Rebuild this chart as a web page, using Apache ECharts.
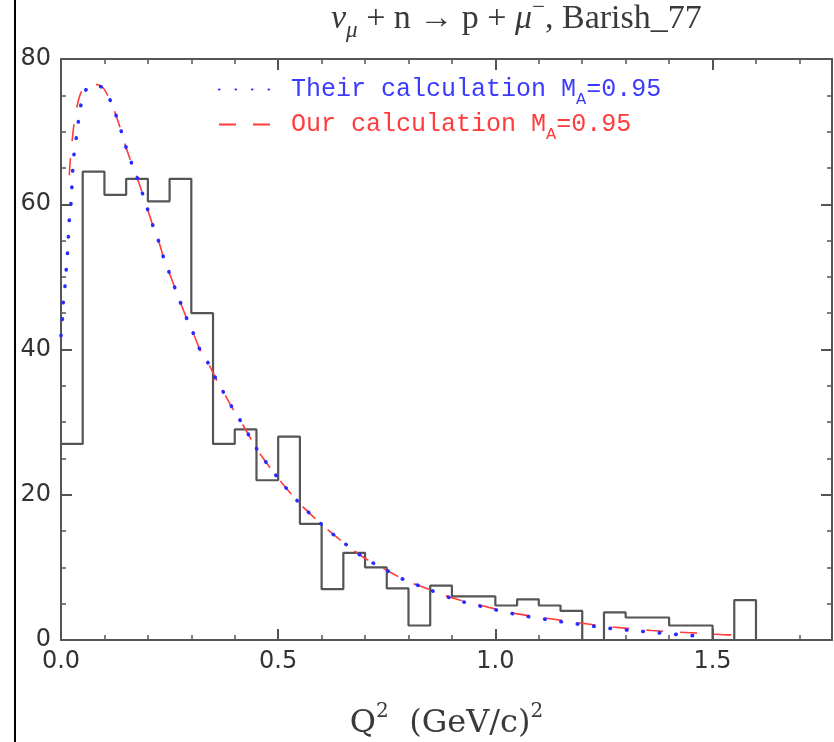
<!DOCTYPE html>
<html>
<head>
<meta charset="utf-8">
<script src="https://cdn.jsdelivr.net/npm/echarts@6/dist/echarts.min.js"></script>
<style>
html,body{margin:0;padding:0;background:#fff;}
#chart{width:834px;height:742px;}
</style>
</head>
<body>
<div id="chart"></div>
<script>
// ---- data ----
const binWidth = 0.05;
const histCounts = [27, 64.5, 61.3, 63.5, 60.4, 63.5, 45, 27, 29, 22, 28, 16, 7, 12, 10, 7.1,
  2, 7.5, 6, 6, 4.75, 5.6, 4.75, 4, 0, 3.8, 3.1, 3.1, 2, 2, 0, 5.5];

const theirQ2 = [0, 0.003, 0.005, 0.009, 0.012, 0.015, 0.017, 0.019, 0.023, 0.025, 0.027, 0.030,
  0.035, 0.040, 0.046, 0.055, 0.063, 0.080, 0.096, 0.115, 0.128, 0.140, 0.151, 0.164, 0.178,
  0.201, 0.213, 0.226, 0.237, 0.251, 0.264, 0.278, 0.292, 0.307, 0.322, 0.341, 0.359, 0.378,
  0.397, 0.416, 0.439, 0.455, 0.501, 0.551, 0.606, 0.634, 0.696, 0.762, 0.800, 0.833, 0.906,
  0.977, 1.050, 1.127, 1.165, 1.203, 1.237, 1.280, 1.317, 1.355, 1.394, 1.430, 1.468];
const theirVal = [41.9, 44, 46.4, 48.6, 51, 53.3, 55.5, 57.8, 60.2, 62.3, 64.7, 66.9,
  69.1, 71.4, 73.7, 75.5, 76.1, 76.4, 76.0, 74.1, 72, 69.8, 67.6, 65.4, 63.2,
  59, 56.8, 54.7, 52.5, 50.3, 48.2, 46, 43.9, 41.9, 39.7, 37.9, 35.7, 33.7,
  31.7, 29.9, 27.5, 25.9, 22.2, 18.7, 15.6, 14.2, 11.4, 9.2, 8.0, 7.3, 5.6,
  4.5, 3.5, 2.75, 2.4, 2.1, 1.8, 1.5, 1.3, 1.1, 0.9, 0.7, 0.55];

const ourQ2 = [0.019, 0.022, 0.026, 0.031, 0.038, 0.047, 0.060, 0.080, 0.096, 0.115, 0.128,
  0.140, 0.151, 0.164, 0.178, 0.201, 0.213, 0.226, 0.237, 0.251, 0.264, 0.278, 0.292, 0.307,
  0.322, 0.341, 0.359, 0.378, 0.397, 0.416, 0.439, 0.455, 0.501, 0.551, 0.606, 0.634, 0.696,
  0.762, 0.800, 0.833, 0.906, 0.977, 1.050, 1.130, 1.200, 1.270, 1.360, 1.450, 1.550, 1.571];
const ourVal = [64, 66.5, 69, 71.5, 73.8, 75.5, 76.3, 76.5, 76.1, 74.1, 72,
  69.8, 67.6, 65.4, 63.2, 59, 56.8, 54.7, 52.5, 50.3, 48.2, 46, 43.9, 41.9,
  39.7, 37.9, 35.7, 33.7, 31.7, 29.9, 27.5, 25.9, 22.2, 18.7, 15.6, 14.2, 11.4,
  9.2, 8.0, 7.3, 5.7, 4.6, 3.6, 2.9, 2.3, 1.8, 1.3, 1.0, 0.7, 0.7];

const xMajorTicks = [0, 0.5, 1.0, 1.5];
const xMinorTicks = [0.1, 0.2, 0.3, 0.4, 0.6, 0.7, 0.8, 0.9, 1.1, 1.2, 1.3, 1.4, 1.6, 1.7];

const titleText = '{g|ν}{s|μ}{r| + n → p + }{g|μ}{p|−}{r|, Barish_77}';
const xTitle = '{r|Q}{p|2}{r|  (GeV/c)}{p|2}';
const legendTheir = 'Their calculation M';
const legendOur = 'Our calculation M';
const legendSub = 'A';
const legendTail = '=0.95';

// ---- chart ----
const histData = histCounts.map((v, i) => [+(i * binWidth).toFixed(3), v]);
histData.push([+(histCounts.length * binWidth).toFixed(3), 0]);
const theirData = theirQ2.map((x, i) => [x, theirVal[i]]);
const ourData = ourQ2.map((x, i) => [x, ourVal[i]]);

const AX = '#555';
const XMAX = 1.775;
const labelFont = {fontFamily: 'DejaVu Sans', fontSize: 24, color: '#333'};

function xAx(pos, majors, showLabel) {
  return {
    type: 'value', position: pos, min: 0, max: XMAX,
    axisLine: {show: majors, lineStyle: {color: AX, width: 2}, onZero: false},
    axisTick: majors
      ? {show: true, inside: true, length: 11, customValues: xMajorTicks, lineStyle: {color: AX, width: 2}}
      : {show: true, inside: true, length: 5, customValues: xMinorTicks, lineStyle: {color: AX, width: 1.5}},
    axisLabel: showLabel
      ? Object.assign({show: true, margin: 10, customValues: xMajorTicks, formatter: v => v.toFixed(1)}, labelFont)
      : {show: false},
    splitLine: {show: false},
    name: showLabel ? xTitle : '',
    nameLocation: 'middle',
    nameGap: 62,
    nameTextStyle: {
      rich: {
        r: {fontFamily: 'DejaVu Serif', fontSize: 32, color: '#3a3a3a', lineHeight: 44, verticalAlign: 'middle'},
        p: {fontFamily: 'DejaVu Serif', fontSize: 20, color: '#3a3a3a', lineHeight: 44, verticalAlign: 'top'}
      }
    }
  };
}
function yAx(pos, showLabel) {
  return {
    type: 'value', position: pos, min: 0, max: 80, interval: 20,
    axisLine: {show: true, lineStyle: {color: AX, width: 2}, onZero: false},
    axisTick: {show: true, inside: true, length: 11, lineStyle: {color: AX, width: 2}},
    minorTick: {show: true, splitNumber: 4, length: 5, lineStyle: {color: AX, width: 1.5}},
    axisLabel: showLabel ? Object.assign({show: true, margin: 10}, labelFont) : {show: false},
    splitLine: {show: false}
  };
}

function legendRich(color) {
  return {
    g: {width: 10},
    t: {fontFamily: 'Liberation Mono', fontSize: 25, color: color, lineHeight: 34, verticalAlign: 'middle'},
    a: {fontFamily: 'Liberation Mono', fontSize: 17, color: color, lineHeight: 36, verticalAlign: 'bottom'}
  };
}

const chart = echarts.init(document.getElementById('chart'), null, {renderer: 'canvas'});
chart.setOption({
  animation: false,
  backgroundColor: '#fff',
  title: {
    text: titleText,
    left: 326, top: -9,
    textStyle: {
      fontWeight: 'normal',
      rich: {
        r: {fontFamily: 'Liberation Serif', fontWeight: 'normal', fontSize: 34, color: '#3a3a3a', lineHeight: 46, verticalAlign: 'middle'},
        g: {fontFamily: 'Liberation Serif', fontWeight: 'normal', fontStyle: 'italic', fontSize: 34, color: '#3a3a3a', lineHeight: 46, verticalAlign: 'middle'},
        s: {fontFamily: 'Liberation Serif', fontWeight: 'normal', fontStyle: 'italic', fontSize: 23, color: '#3a3a3a', lineHeight: 46, verticalAlign: 'bottom'},
        p: {fontFamily: 'Liberation Serif', fontWeight: 'normal', fontSize: 23, color: '#3a3a3a', lineHeight: 46, verticalAlign: 'top'}
      }
    }
  },
  legend: [
    {
      data: ['their'], left: 213, top: 72, itemWidth: 57, itemHeight: 14,
      itemStyle: {color: 'rgba(0,0,0,0)', borderWidth: 0, opacity: 0},
      formatter: () => '{g|}{t|' + legendTheir + '}{a|' + legendSub + '}{t|' + legendTail + '}',
      textStyle: {rich: legendRich('#3b3bff')}
    },
    {
      data: ['our'], left: 213, top: 107, itemWidth: 57, itemHeight: 14,
      itemStyle: {color: 'rgba(0,0,0,0)', borderWidth: 0, opacity: 0},
      formatter: () => '{g|}{t|' + legendOur + '}{a|' + legendSub + '}{t|' + legendTail + '}',
      textStyle: {rich: legendRich('#ff3b3b')}
    }
  ],
  grid: {left: 61, right: 2, top: 59, bottom: 102, containLabel: false, outerBoundsMode: 'none'},
  xAxis: [xAx('bottom', true, true), xAx('bottom', false, false), xAx('top', true, false), xAx('top', false, false)],
  yAxis: [yAx('left', true), yAx('right', false)],
  graphic: [
    {type: 'line', shape: {x1: 15, y1: 0, x2: 15, y2: 742}, style: {stroke: '#000', lineWidth: 2}, z: 10}
  ],
  series: [
    {
      name: 'hist', type: 'line', step: 'end', data: histData, symbol: 'none',
      lineStyle: {color: '#555', width: 2.2}, z: 2, clip: false
    },
    {
      name: 'our', type: 'line', data: ourData, symbol: 'none', smooth: 0.3,
      itemStyle: {color: '#ff3b3b'},
      lineStyle: {color: '#ff3b3b', width: 1.6, type: [17, 17]}, z: 3
    },
    {
      name: 'their', type: 'line', data: theirData, symbol: 'none', smooth: 0.3,
      itemStyle: {color: '#2a2aff'},
      lineStyle: {color: '#2a2aff', width: 3.6, type: [0.5, 16], cap: 'round'}, z: 4
    }
  ]
});
</script>
</body>
</html>
